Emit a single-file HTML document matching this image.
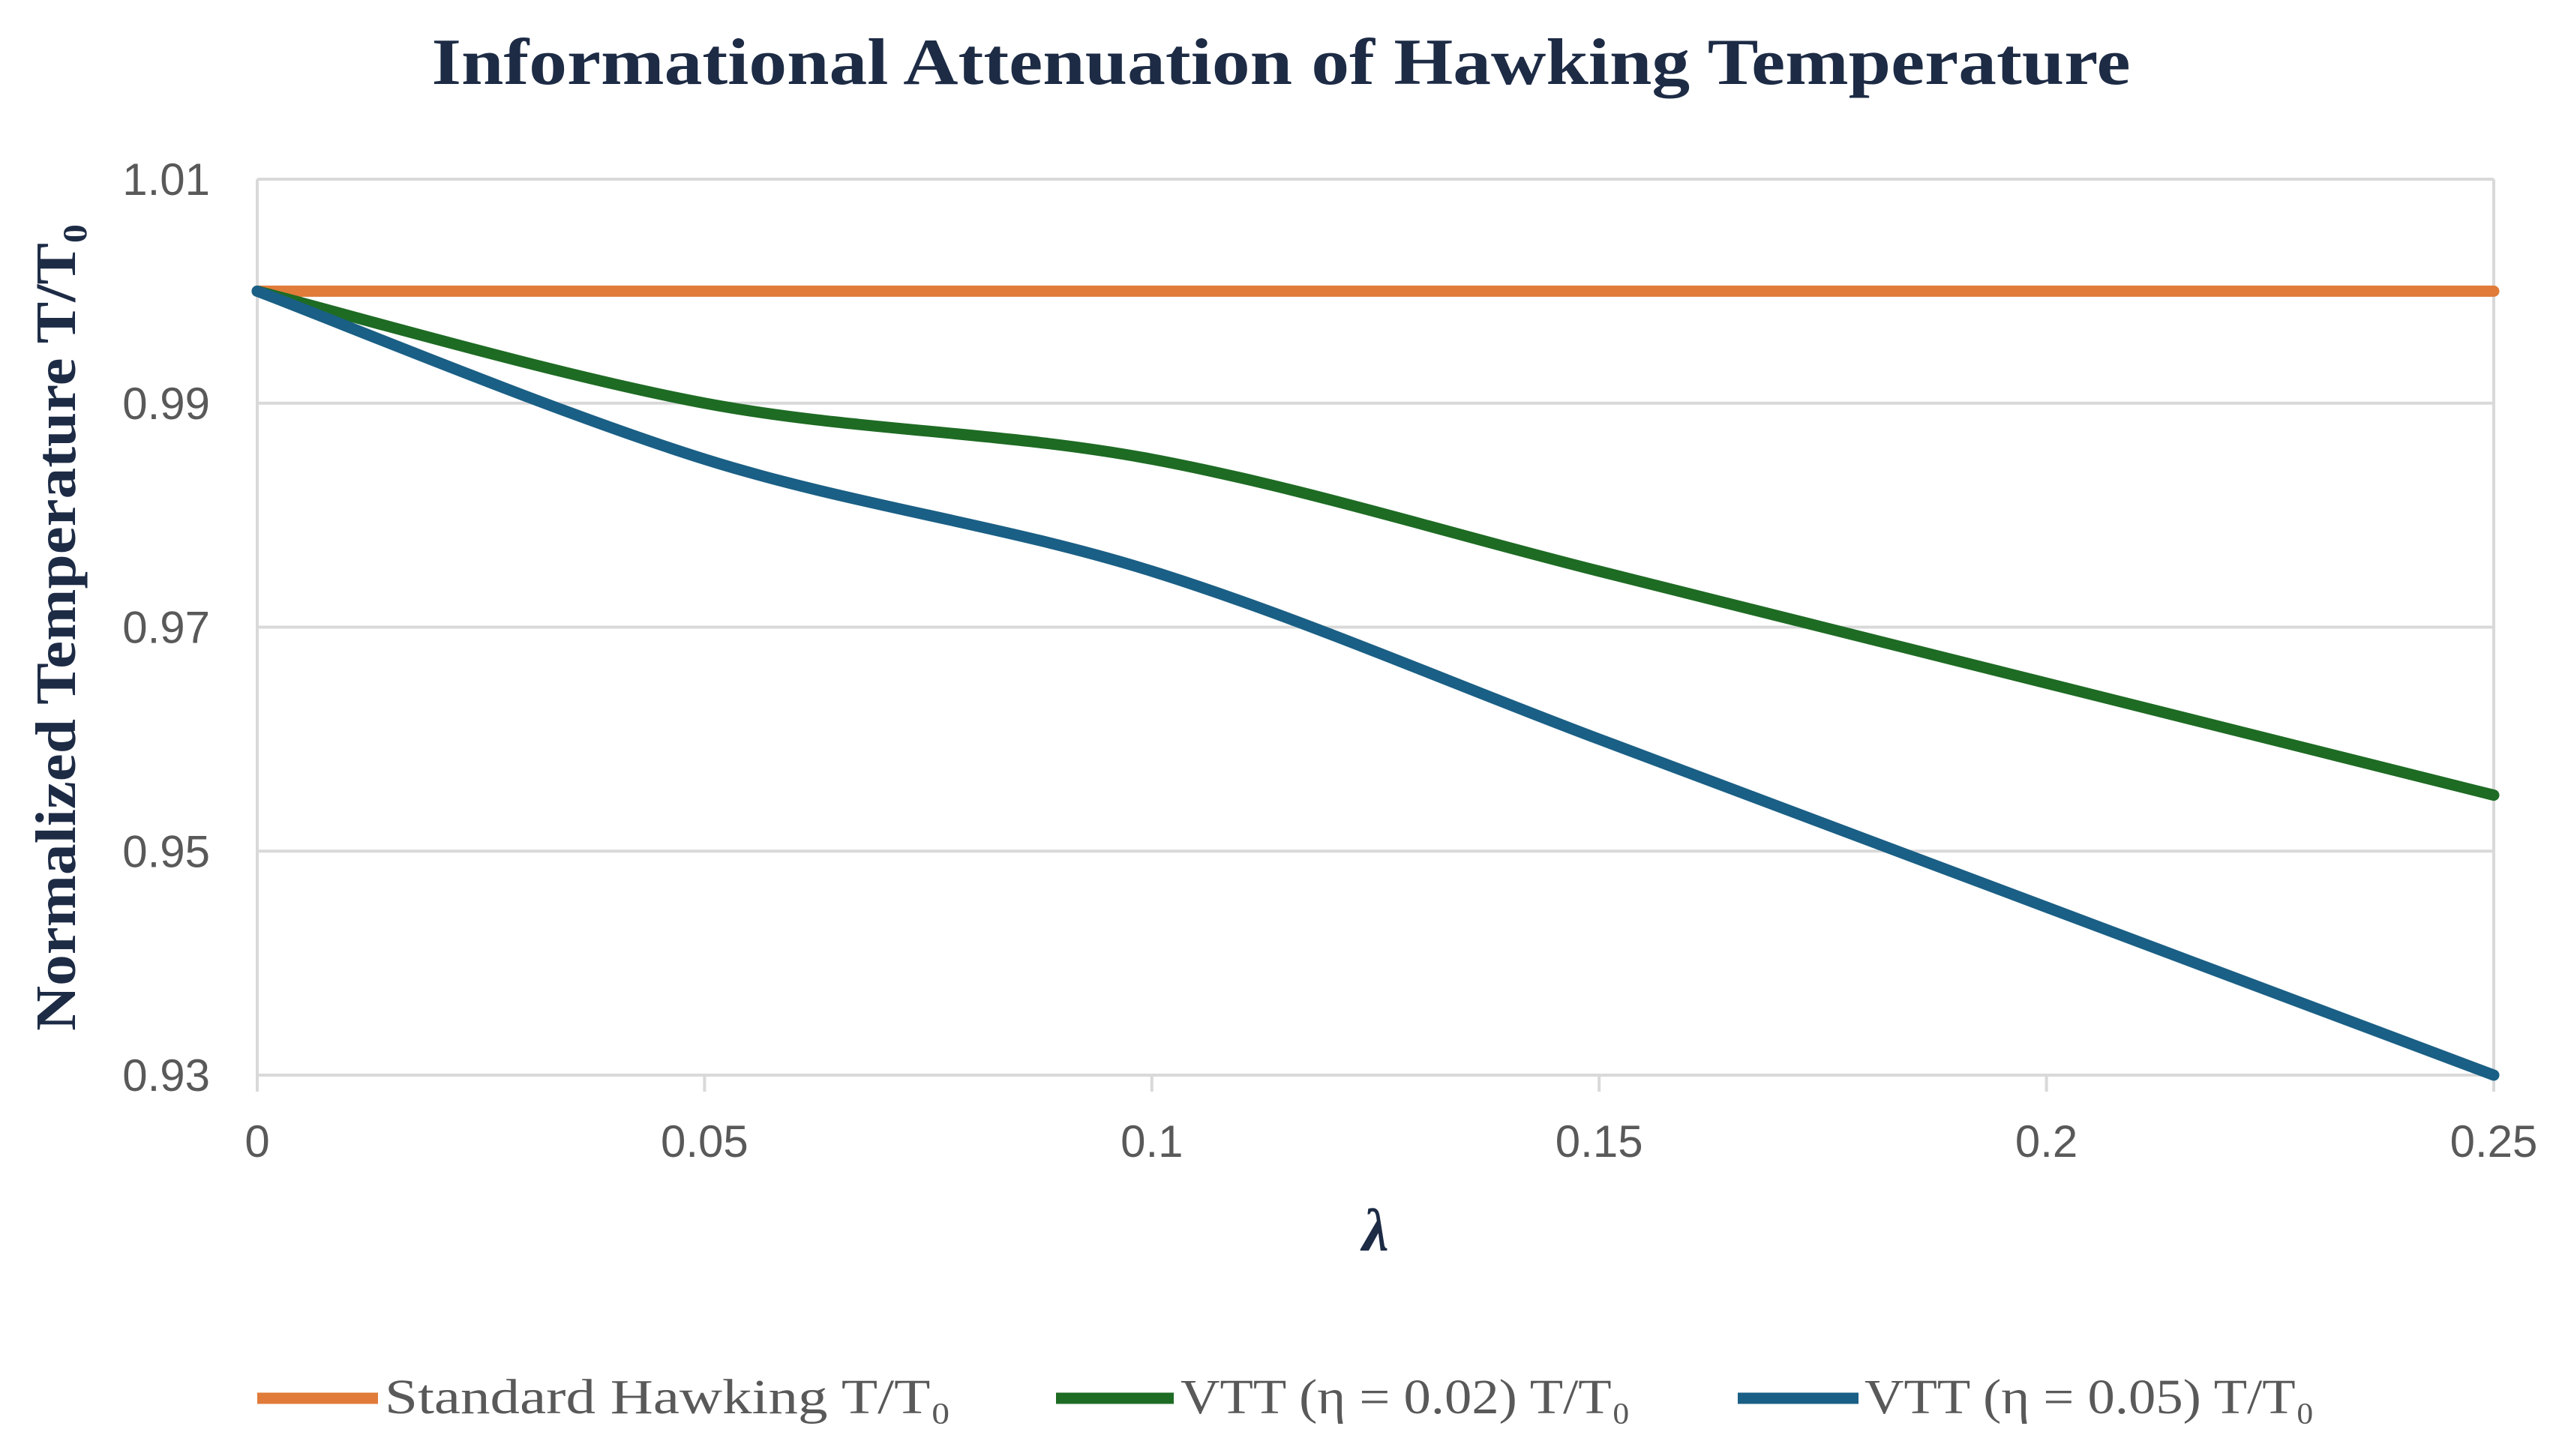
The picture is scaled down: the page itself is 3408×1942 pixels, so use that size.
<!DOCTYPE html>
<html><head><meta charset="utf-8"><style>html,body{margin:0;padding:0;background:#fff}svg{display:block}</style></head>
<body>
<svg id="chart" width="3408" height="1942" viewBox="0 0 3408 1942" xmlns="http://www.w3.org/2000/svg">
<rect width="3408" height="1942" fill="#fff"/>
<text x="1708" y="112" text-anchor="middle" font-family="Liberation Serif, serif" font-weight="bold" font-size="88" fill="#1d2b45" textLength="2265" lengthAdjust="spacingAndGlyphs">Informational Attenuation of Hawking Temperature</text>
<g id="grid"></g>
<g id="yticks"></g>
<g id="xticks"></g>
<g id="series"></g>
<text transform="translate(100,837) rotate(-90)" text-anchor="middle" font-family="Liberation Serif, serif" font-weight="bold" font-size="76" fill="#1d2b45" textLength="1076" lengthAdjust="spacingAndGlyphs">Normalized Temperature T/T₀</text>
<text x="1834" y="1668" text-anchor="middle" font-family="Liberation Serif, serif" font-weight="bold" font-style="italic" font-size="80" fill="#1d2b45">λ</text>
<g>
 <g>
  <line x1="343" y1="1865" x2="504" y2="1865" stroke="#e07b39" stroke-width="15"/>
  <text x="513" y="1885" font-family="Liberation Serif, serif" font-size="66" fill="#595959" textLength="755" lengthAdjust="spacingAndGlyphs">Standard Hawking T/T₀</text>
 </g>
 <g>
  <line x1="1408" y1="1865" x2="1565" y2="1865" stroke="#1e6b24" stroke-width="15"/>
  <text x="1574" y="1885" font-family="Liberation Serif, serif" font-size="66" fill="#595959" textLength="600" lengthAdjust="spacingAndGlyphs">VTT (η = 0.02) T/T₀</text>
 </g>
 <g>
  <line x1="2317" y1="1865" x2="2478" y2="1865" stroke="#1a5f85" stroke-width="15"/>
  <text x="2486" y="1885" font-family="Liberation Serif, serif" font-size="66" fill="#595959" textLength="600" lengthAdjust="spacingAndGlyphs">VTT (η = 0.05) T/T₀</text>
 </g>
</g>
</svg>
<script>
const xCategories = [0, 0.05, 0.1, 0.15, 0.2, 0.25];
const standardValues = [1, 1, 1, 1, 1, 1];
const vtt002Values = [1, 0.99, 0.985, 0.975, 0.965, 0.955];
const vtt005Values = [1, 0.985, 0.975, 0.96, 0.945, 0.93];
const yTickLabels = ["0.93", "0.95", "0.97", "0.99", "1.01"];
const xTickLabels = ["0", "0.05", "0.1", "0.15", "0.2", "0.25"];

const NS = "http://www.w3.org/2000/svg";
const L = 343, R = 3325, T = 239, B = 1434;
const xMin = 0, xMax = 0.25, yMin = 0.93, yMax = 1.01;
function xs(v){ return L + (v - xMin) / (xMax - xMin) * (R - L); }
function ys(v){ return B - (v - yMin) / (yMax - yMin) * (B - T); }
function mk(tag, attrs, parent){ const e = document.createElementNS(NS, tag); for (const k in attrs) e.setAttribute(k, attrs[k]); parent.appendChild(e); return e; }

const grid = document.getElementById('grid');
yTickLabels.forEach(t => {
  const v = parseFloat(t);
  const gl = mk('line', {x1: L, x2: R, y1: ys(v), y2: ys(v), stroke: '#d9d9d9', 'stroke-width': 4}, grid);
  
  
  const tx = mk('text', {x: 280, y: ys(v) + 21, 'text-anchor': 'end', 'font-family': 'Liberation Sans, sans-serif', 'font-size': 60, fill: '#595959'}, document.getElementById('yticks'));
  tx.textContent = t;
  
  
});
const yax = mk('line', {x1: L, x2: L, y1: T, y2: B + 22, stroke: '#d9d9d9', 'stroke-width': 4}, grid);


const rax = mk('line', {x1: R, x2: R, y1: T, y2: B + 22, stroke: '#d9d9d9', 'stroke-width': 4}, grid);


xTickLabels.forEach(t => {
  const v = parseFloat(t);
  const tk = mk('line', {x1: xs(v), x2: xs(v), y1: B, y2: B + 22, stroke: '#d9d9d9', 'stroke-width': 4}, grid);
  
  
  const tx = mk('text', {x: xs(v), y: 1543, 'text-anchor': 'middle', 'font-family': 'Liberation Sans, sans-serif', 'font-size': 60, fill: '#595959'}, document.getElementById('xticks'));
  tx.textContent = t;
  
  
});

function smoothPath(vals){
  const p = vals.map((v, i) => [xs(xCategories[i]), ys(v)]);
  let d = 'M' + p[0][0] + ',' + p[0][1];
  for (let i = 0; i < p.length - 1; i++) {
    const p0 = p[Math.max(i - 1, 0)], p1 = p[i], p2 = p[i + 1], p3 = p[Math.min(i + 2, p.length - 1)];
    const t = 0.5 / 3;
    const c1 = [p1[0] + (p2[0] - p0[0]) * t, p1[1] + (p2[1] - p0[1]) * t];
    const c2 = [p2[0] - (p3[0] - p1[0]) * t, p2[1] - (p3[1] - p1[1]) * t];
    d += ' C' + c1[0] + ',' + c1[1] + ' ' + c2[0] + ',' + c2[1] + ' ' + p2[0] + ',' + p2[1];
  }
  return d;
}
const sg = document.getElementById('series');
const s1 = mk('path', {d: smoothPath(standardValues), fill: 'none', stroke: '#e07b39', 'stroke-width': 15, 'stroke-linecap': 'round'}, sg);


const s2 = mk('path', {d: smoothPath(vtt002Values), fill: 'none', stroke: '#1e6b24', 'stroke-width': 15, 'stroke-linecap': 'round'}, sg);


const s3 = mk('path', {d: smoothPath(vtt005Values), fill: 'none', stroke: '#1a5f85', 'stroke-width': 15, 'stroke-linecap': 'round'}, sg);


</script>
</body></html>
